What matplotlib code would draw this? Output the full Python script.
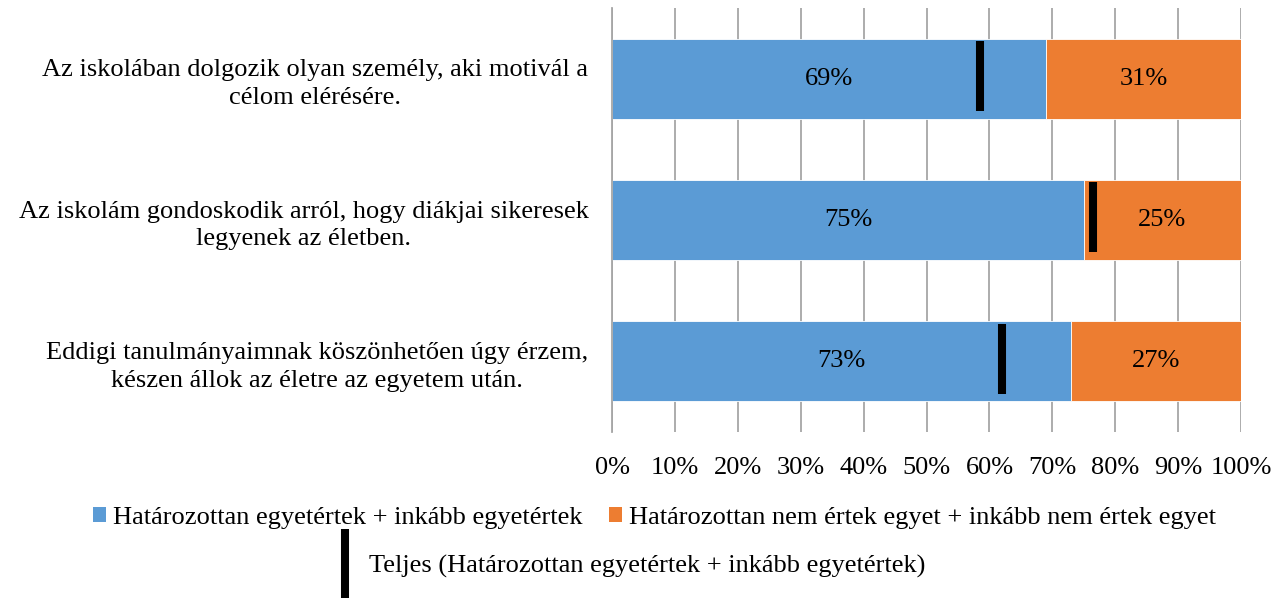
import numpy as np
import matplotlib.pyplot as plt
from matplotlib.patches import Patch
from matplotlib.lines import Line2D

plt.rcParams['font.family'] = ['Liberation Serif', 'DejaVu Serif']

kategoriak = [
    "Az iskolában dolgozik olyan személy, aki motivál a\ncélom elérésére.",
    "Az iskolám gondoskodik arról, hogy diákjai sikeresek\nlegyenek az életben.",
    "Eddigi tanulmányaimnak köszönhetően úgy érzem,\nkészen állok az életre az egyetem után.",
]
egyetert = [69, 75, 73]
nem_ert = [31, 25, 27]
teljes = [58.5, 76.5, 62]

nev_kek = "Határozottan egyetértek + inkább egyetértek"
nev_narancs = "Határozottan nem értek egyet + inkább nem értek egyet"
nev_teljes = "Teljes (Határozottan egyetértek + inkább egyetértek)"

kek = "#5B9BD5"
narancs = "#ED7D31"
fs = 19

fig = plt.figure(figsize=(12.73, 5.98), dpi=100)
ax = fig.add_axes([0.4808, 0.2776, 0.4941, 0.709])

y = np.arange(len(kategoriak))
ax.barh(y, egyetert, height=0.565, color=kek, edgecolor="white", linewidth=0.6, zorder=2)
ax.barh(y, nem_ert, left=egyetert, height=0.565, color=narancs, edgecolor="white", linewidth=0.6, zorder=2)

for i in range(len(y)):
    ax.text(egyetert[i] / 2, y[i], f"{egyetert[i]}%", ha="center", va="center", fontsize=fs, zorder=4)
    ax.text(egyetert[i] + nem_ert[i] / 2, y[i], f"{nem_ert[i]}%", ha="center", va="center", fontsize=fs, zorder=4)

ax.plot(teljes, y - 0.018, linestyle="none", marker="|", markersize=51, markeredgewidth=5.8,
        color="black", zorder=5)

ax.set_xlim(0, 100)
ax.set_ylim(len(y) - 0.5, -0.5)
ax.set_xticks(np.arange(0, 101, 10))
ax.set_xticklabels([f"{v}%" for v in range(0, 101, 10)], fontsize=fs)
ax.set_yticks(y)
ax.set_yticklabels(kategoriak, fontsize=fs, multialignment="center", linespacing=1.35)
ax.tick_params(axis="both", length=0)
ax.tick_params(axis="y", pad=17)
ax.tick_params(axis="x", pad=18)
ax.xaxis.grid(True, color="#a6a6a6", linewidth=1.3, zorder=0)
ax.set_axisbelow(True)
for s in ["top", "right", "bottom"]:
    ax.spines[s].set_visible(False)
ax.spines["left"].set_color("#a6a6a6")
ax.spines["left"].set_linewidth(1.3)

h1 = [Patch(facecolor=kek, label=nev_kek), Patch(facecolor=narancs, label=nev_narancs)]
fig.legend(handles=h1, loc="center", bbox_to_anchor=(0.514, 0.134), ncol=2, frameon=False,
           fontsize=fs, handlelength=0.5, handleheight=0.5, handletextpad=0.25, columnspacing=1.0)
h2 = [Line2D([], [], linestyle="none", marker="|", markersize=51, markeredgewidth=5.8, color="black",
             label=nev_teljes)]
fig.legend(handles=h2, loc="center", bbox_to_anchor=(0.494, 0.053), frameon=False, fontsize=fs,
           handlelength=1.0, handletextpad=0.4)

fig.savefig("out.png", dpi=100)
